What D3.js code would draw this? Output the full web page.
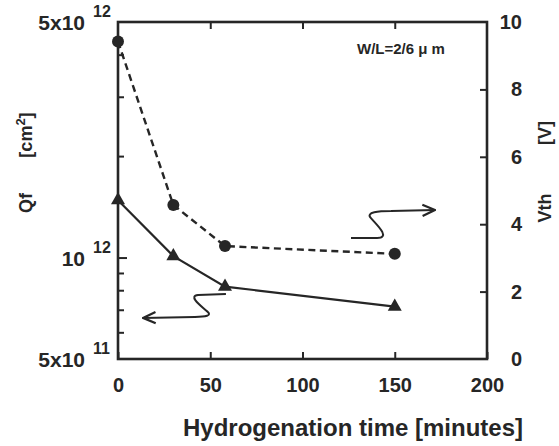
<!doctype html>
<html lang="en">

<head>
    <meta charset="utf-8">
    <title>Qf and Vth vs hydrogenation time</title>
    <script src="https://cdn.jsdelivr.net/npm/d3@7"></script>
    <style>
        body {
            margin: 0;
            background: #fff;
        }

        svg {
            font-family: "Liberation Sans", Arial, Helvetica, sans-serif;
            font-weight: bold;
        }
    </style>
</head>

<body>
    <svg></svg>
    <script>
        var width = 559;
        var height = 446;
        var ink = "#262626";

        // data
        var times = [0, 30, 58, 150];                 // minutes
        var vth = [9.42, 4.57, 3.35, 3.12];           // V (right axis, dashed, circles)
        var qf = [1.48e12, 1.01e12, 8.2e11, 7.15e11]; // cm^-2 (left axis, solid, triangles)

        var xTicks = [0, 50, 100, 150, 200];
        var vthTicks = [0, 2, 4, 6, 8, 10];
        var qfMinor = [6e11, 7e11, 8e11, 9e11, 2e12, 3e12, 4e12];
        var qfLabels = [
            { v: 5e12, base: "5x10", exp: "12" },
            { v: 1e12, base: "10", exp: "12" },
            { v: 5e11, base: "5x10", exp: "11" }
        ];

        // annotation arrows, in (minutes, Vth) units:
        // start, end of straight run, two S-bends (c1, c2, end each), arrow tip
        var arrowRight = [[126.3, 3.59], [140.4, 3.59],
            [148.0, 3.59], [140.4, 3.98], [137.1, 4.18],
            [133.9, 4.36], [141.5, 4.39], [148.0, 4.39],
            [171.8, 4.42]];
        var arrowLeft = [[58.5, 1.93], [43.4, 1.90],
            [38.0, 1.87], [44.4, 1.60], [48.2, 1.42],
            [51.5, 1.28], [47.2, 1.25], [41.7, 1.25],
            [13.6, 1.22]];

        // plot frame (note: "top" is reserved on window, so use p* names)
        var pLeft = 118, pRight = 487, pTop = 22, pBottom = 359;

        var svg = d3.select('svg').attr('width', width).attr('height', height);

        var xScale = d3.scaleLinear().domain([0, 200]).range([pLeft, pRight]);
        var yLeft = d3.scaleLog().domain([5e11, 5e12]).range([pBottom, pTop]);
        var yRight = d3.scaleLinear().domain([0, 10]).range([pBottom, pTop]);

        // inward ticks
        var bottomAxis = d3.axisBottom(xScale).tickValues(xTicks).tickSize(-7).tickPadding(19);
        var topAxis = d3.axisTop(xScale).tickValues([50, 100, 150]).tickSize(-7).tickFormat("");
        var leftMinor = d3.axisLeft(yLeft).tickValues(qfMinor).tickSize(-6).tickFormat("");
        var leftMajor = d3.axisLeft(yLeft).tickValues([1e12]).tickSize(-9).tickFormat("");
        var rightAxis = d3.axisRight(yRight).tickValues([2, 4, 6, 8]).tickSize(-7).tickFormat("");

        function styleAxis(g) {
            g.select(".domain").remove();
            g.selectAll("line").attr("stroke", ink).attr("stroke-width", 2);
            g.selectAll("text").attr("fill", ink).style("font-size", "20px").style("font-weight", "bold")
                .style("font-family", "'Liberation Sans', Arial, sans-serif");
        }

        svg.append('g').attr('transform', 'translate(0,' + pBottom + ')').call(bottomAxis).call(styleAxis);
        svg.append('g').attr('transform', 'translate(0,' + pTop + ')').call(topAxis).call(styleAxis);
        svg.append('g').attr('transform', 'translate(' + pLeft + ',0)').call(leftMinor).call(styleAxis);
        svg.append('g').attr('transform', 'translate(' + pLeft + ',0)').call(leftMajor).call(styleAxis);
        svg.append('g').attr('transform', 'translate(' + pRight + ',0)').call(rightAxis).call(styleAxis);

        // frame
        svg.append("rect")
            .attr("x", pLeft).attr("y", pTop)
            .attr("width", pRight - pLeft).attr("height", pBottom - pTop)
            .attr("fill", "none").attr("stroke", ink).attr("stroke-width", 2.6);

        // left tick labels with exponents
        var ql = svg.append("g").attr("fill", ink);
        ql.selectAll("text.base")
            .data(qfLabels)
            .enter().append("text")
            .attr("class", "base")
            .attr("x", 85)
            .attr("y", function (d) { return yLeft(d.v) + 8; })
            .attr("text-anchor", "end")
            .style("font-size", "21px")
            .text(function (d) { return d.base; });
        ql.selectAll("text.exp")
            .data(qfLabels)
            .enter().append("text")
            .attr("class", "exp")
            .attr("x", 93)
            .attr("y", function (d) { return yLeft(d.v) - 5; })
            .style("font-size", "16px")
            .text(function (d) { return d.exp; });

        // right tick labels
        svg.append("g").selectAll("text")
            .data(vthTicks)
            .enter().append("text")
            .attr("x", 522)
            .attr("y", function (d) { return yRight(d) + 7; })
            .attr("text-anchor", "end")
            .attr("fill", ink)
            .style("font-size", "20px")
            .text(function (d) { return d; });

        // series lines
        var vthLine = d3.line()
            .x(function (d, i) { return xScale(times[i]); })
            .y(function (d) { return yRight(d); });
        var qfLine = d3.line()
            .x(function (d, i) { return xScale(times[i]); })
            .y(function (d) { return yLeft(d); });

        svg.append("path")
            .datum(vth)
            .attr("d", vthLine)
            .attr("fill", "none").attr("stroke", ink).attr("stroke-width", 2.4)
            .attr("stroke-dasharray", "7,4.5");

        svg.append("path")
            .datum(qf)
            .attr("d", qfLine)
            .attr("fill", "none").attr("stroke", ink).attr("stroke-width", 2.2);

        svg.selectAll("circle.vth")
            .data(vth)
            .enter().append("circle")
            .attr("class", "vth")
            .attr("cx", function (d, i) { return xScale(times[i]); })
            .attr("cy", function (d) { return yRight(d); })
            .attr("r", 6)
            .attr("fill", ink);

        var tri = d3.symbol().type(d3.symbolTriangle).size(85);
        svg.selectAll("path.qf")
            .data(qf)
            .enter().append("path")
            .attr("class", "qf")
            .attr("d", tri)
            .attr("transform", function (d, i) { return "translate(" + xScale(times[i]) + "," + yLeft(d) + ")"; })
            .attr("fill", ink);

        // arrow annotations
        svg.append("defs").append("marker")
            .attr("id", "head")
            .attr("viewBox", "0 0 12 12")
            .attr("refX", 11).attr("refY", 6)
            .attr("markerWidth", 15).attr("markerHeight", 15)
            .attr("markerUnits", "userSpaceOnUse")
            .attr("orient", "auto")
            .append("path")
            .attr("d", "M1,1.5 L11,6 L1,10.5")
            .attr("fill", "none").attr("stroke", ink).attr("stroke-width", 1.8);

        function arrowPath(p) {
            var q = p.map(function (d) { return [xScale(d[0]), yRight(d[1])]; });
            var path = d3.path();
            path.moveTo(q[0][0], q[0][1]);
            path.lineTo(q[1][0], q[1][1]);
            path.bezierCurveTo(q[2][0], q[2][1], q[3][0], q[3][1], q[4][0], q[4][1]);
            path.bezierCurveTo(q[5][0], q[5][1], q[6][0], q[6][1], q[7][0], q[7][1]);
            path.lineTo(q[8][0], q[8][1]);
            return path.toString();
        }

        [arrowRight, arrowLeft].forEach(function (pts) {
            svg.append("path")
                .attr("d", arrowPath(pts))
                .attr("fill", "none").attr("stroke", ink).attr("stroke-width", 2)
                .attr("stroke-linejoin", "round")
                .attr("marker-end", "url(#head)");
        });

        // text
        svg.append("text")
            .attr("x", 357).attr("y", 54)
            .attr("fill", ink).style("font-size", "15px")
            .text("W/L=2/6 \u03bc m");

        svg.append("text")
            .attr("x", 353).attr("y", 436)
            .attr("text-anchor", "middle")
            .attr("fill", ink).style("font-size", "24px")
            .text("Hydrogenation time [minutes]");

        svg.append("text")
            .attr("transform", "translate(32,203) rotate(-90)")
            .attr("text-anchor", "middle")
            .attr("fill", ink).style("font-size", "18px")
            .text("Qf");
        svg.append("text")
            .attr("transform", "translate(32,135) rotate(-90)")
            .attr("text-anchor", "middle")
            .attr("fill", ink).style("font-size", "18px")
            .html("[cm<tspan dy='-7' font-size='13px'>2</tspan><tspan dy='7'>]</tspan>");

        svg.append("text")
            .attr("transform", "translate(551,208) rotate(-90)")
            .attr("text-anchor", "middle")
            .attr("fill", ink).style("font-size", "18px")
            .text("Vth");
        svg.append("text")
            .attr("transform", "translate(551,133) rotate(-90)")
            .attr("text-anchor", "middle")
            .attr("fill", ink).style("font-size", "18px")
            .text("[V]");
    </script>

</body>

</html>
